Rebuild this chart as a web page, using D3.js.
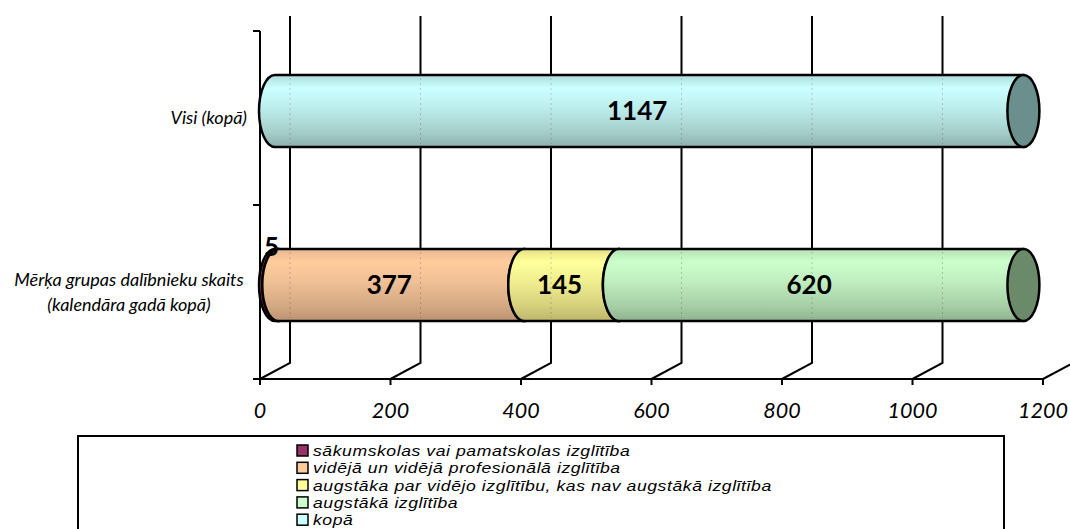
<!DOCTYPE html>
<html><head><meta charset="utf-8">
<script src="https://cdn.jsdelivr.net/npm/d3@7"></script>
<style>
html,body{margin:0;padding:0;background:#fff;}
svg{display:block;}
</style></head>
<body>
<svg id="chart" width="1070" height="529"></svg>
<script>
// ---------- data ----------
const categories = ["Mērķa grupas dalībnieku skaits\n(kalendāra gadā kopā)", "Visi (kopā)"];
const seriesNames = [
  "sākumskolas vai pamatskolas izglītība",
  "vidējā un vidējā profesionālā izglītība",
  "augstāka par vidējo izglītību, kas nav augstākā izglītība",
  "augstākā izglītība",
  "kopā"
];
const sakumskolas = [5, 0];
const videja = [377, 0];
const augstakaPar = [145, 0];
const augstaka = [620, 0];
const kopa = [0, 1147];
const xTicks = [0, 200, 400, 600, 800, 1000, 1200];

// ---------- styles ----------
const legendColors = ["#993366", "#ffcc99", "#ffff99", "#ccffcc", "#ccffff"];
const bodyStops = [
  ["#8a3c62", "#b04a7c", "#993366", "#7a2a52", "#642244"],
  ["#e8b890", "#ffcc9c", "#f0c096", "#d2a882", "#bb9272"],
  ["#e6e080", "#ffff9c", "#f0ee90", "#d4cf7c", "#bdb66c"],
  ["#b4e2b4", "#ccffcc", "#bfeebf", "#a6cea6", "#8fb28f"],
  ["#aedcdc", "#ccffff", "#bdeeee", "#a4cdca", "#8eb0ac"]
];
const capColors = ["#5e2040", "#b08a68", "#aaa55a", "#6a8a6a", "#6a8f8c"];
const seriesValues = [sakumskolas, videja, augstakaPar, augstaka, kopa];

const svg = d3.select("#chart");
const defs = svg.append("defs");
bodyStops.forEach((st, i) => {
  const g = defs.append("linearGradient").attr("id", "g" + i)
    .attr("x1", 0).attr("y1", 0).attr("x2", 0).attr("y2", 1);
  const offs = [0, 0.18, 0.45, 0.8, 1];
  st.forEach((c, k) => g.append("stop").attr("offset", offs[k]).attr("stop-color", c));
});

// ---------- scales ----------
const x = d3.scaleLinear().domain([0, 1200]).range([260, 1043]);
const y = d3.scaleBand().domain(categories).range([379, 31]);
const depth = { dx: 30, dy: -16 };
const barHalf = 36, rx = 16;

const font = "Lato, 'Open Sans', 'Liberation Sans', sans-serif";
const legendFont = "'Liberation Sans', Arial, sans-serif";

// ---------- back gridlines & floor ----------
const grid = svg.append("g").attr("stroke", "#000").attr("stroke-width", 2).attr("fill", "none");
xTicks.forEach(t => {
  const fx = x(t), bx = fx + depth.dx, by = 379 + depth.dy;
  grid.append("path").attr("d", `M${fx},379 L${bx},${by} L${bx},16`);
});

// ---------- axes ----------
const ax = svg.append("g").attr("stroke", "#000").attr("stroke-width", 2).attr("fill", "none");
ax.append("line").attr("x1", 253).attr("x2", x(1200)).attr("y1", 379).attr("y2", 379);
xTicks.forEach(t => ax.append("line").attr("x1", x(t)).attr("x2", x(t)).attr("y1", 379).attr("y2", 385));
ax.append("line").attr("x1", 260).attr("x2", 260).attr("y1", 31).attr("y2", 379);
[31, 31 + y.step(), 379].forEach(v => ax.append("line").attr("x1", 253).attr("x2", 260).attr("y1", v).attr("y2", v));

svg.append("g").selectAll("text").data(xTicks).join("text")
  .attr("x", d => x(d)).attr("y", 418)
  .attr("text-anchor", "middle")
  .attr("font-family", font).attr("font-style", "italic").attr("font-size", 21.5)
  .text(d => d);

// category labels
categories.forEach(c => {
  const lines = c.split("\n");
  const cy = y(c) + y.bandwidth() / 2;
  const t = svg.append("text").attr("font-family", font).attr("font-style", "italic")
    .attr("font-size", 18).attr("fill", "#000");
  if (lines.length === 1) {
    t.attr("x", 247).attr("y", cy + 6).attr("text-anchor", "end").text(lines[0]);
  } else {
    lines.forEach((l, k) => {
      t.append("tspan").attr("x", 129).attr("text-anchor", "middle")
        .attr("y", cy + 6 + (k - (lines.length - 1) / 2) * 25).text(l);
    });
  }
});

// ---------- cylinders ----------
const bars = svg.append("g");
const labels = svg.append("g");
categories.forEach((c, ci) => {
  const cyF = y(c) + y.bandwidth() / 2;
  const cy = cyF + depth.dy / 2 + 1;
  let cum = 0;
  seriesValues.forEach((vals, si) => {
    const v = vals[ci];
    if (!v) return;
    const s = cum, e = cum + v;
    cum = e;
    const x0 = x(s) + depth.dx / 2, x1 = x(e) + depth.dx / 2;
    bars.append("path")
      .attr("d", `M${x0},${cy - barHalf} L${x1},${cy - barHalf} L${x1},${cy + barHalf} L${x0},${cy + barHalf} A${rx},${barHalf} 0 0 1 ${x0},${cy - barHalf} Z`)
      .attr("fill", `url(#g${si})`).attr("stroke", "#000").attr("stroke-width", 2.5);
    xTicks.forEach(t => {
      const gx = x(t) + depth.dx;
      if (gx > x0 && gx < x1 - rx) {
        bars.append("line").attr("x1", gx).attr("x2", gx)
          .attr("y1", cy - barHalf + 3).attr("y2", cy + barHalf - 3)
          .attr("stroke", "#000").attr("stroke-opacity", 0.18)
          .attr("stroke-dasharray", "2,3").attr("stroke-width", 1);
      }
    });
    bars.append("ellipse").attr("cx", x1).attr("cy", cy).attr("rx", rx).attr("ry", barHalf)
      .attr("fill", capColors[si]).attr("stroke", "#000").attr("stroke-width", 2.5);
    const mid = x((s + e) / 2);
    const small = (x(e) - x(s)) < 20;
    labels.append("text")
      .attr("x", small ? mid + 10 : mid + 3)
      .attr("y", small ? cy - barHalf + 7 : cy + 9)
      .attr("text-anchor", "middle")
      .attr("font-family", font).attr("font-weight", "bold").attr("font-size", 26)
      .text(v);
  });
});

// ---------- legend ----------
const lg = svg.append("g");
lg.append("rect").attr("x", 78).attr("y", 436).attr("width", 926).attr("height", 110)
  .attr("fill", "#fff").attr("stroke", "#000").attr("stroke-width", 2);
const lineH = 17.3, firstBase = 456;
seriesNames.forEach((n, i) => {
  lg.append("rect").attr("x", 297).attr("y", firstBase + i * lineH - 11).attr("width", 11).attr("height", 11)
    .attr("fill", legendColors[i]).attr("stroke", "#000").attr("stroke-width", 1.5);
  lg.append("text")
    .attr("transform", `translate(313,${firstBase + i * lineH}) scale(1.15,1)`)
    .attr("font-family", legendFont).attr("font-style", "italic").attr("font-size", 15.3)
    .attr("letter-spacing", 0.5)
    .text(n);
});
</script>
</body></html>
